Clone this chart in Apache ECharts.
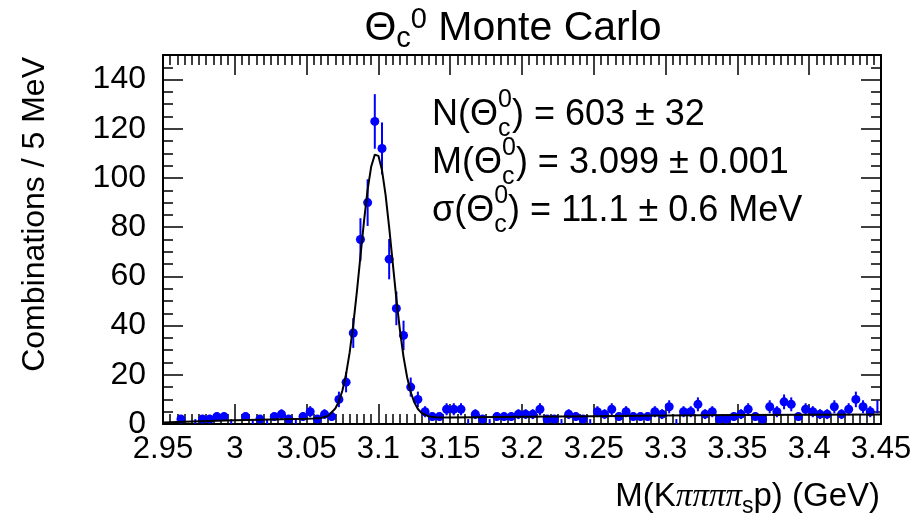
<!DOCTYPE html>
<html><head><meta charset="utf-8">
<script src="https://cdn.jsdelivr.net/npm/echarts/dist/echarts.min.js"></script>
<style>html,body{margin:0;padding:0;background:#fff}#c{width:922px;height:526px}</style>
</head><body><div id="c"></div>
<script>
// ---- data ----
const xMin = 2.95, xMax = 3.45, binWidth = 0.005;
const yMax = 150;
const xTickLabels = ['2.95','3','3.05','3.1','3.15','3.2','3.25','3.3','3.35','3.4','3.45'];
const yTickLabels = ['0','20','40','60','80','100','120','140'];
// combinations per 5 MeV bin (100 bins from 2.95 to 3.45 GeV)
const counts = [
  0,0,2,0,1,2,2,3,3,1,
  0,3,1,2,1,3,4,2,1,3,
  5,2,4,3,10,17,37,75,90,123,
  112,67,47,36,15,10,5,3,3,6,
  6,6,1,4,2,1,3,3,3,4,
  4,4,6,2,2,1,4,3,2,1,
  5,4,6,3,5,3,3,3,5,4,
  7,1,5,5,8,4,5,2,2,3,
  4,6,3,2,7,5,9,8,3,6,
  5,4,4,7,4,6,10,7,5,7
];
// fitted curve: [mass, combinations / 5 MeV]
const fitCurve = [
  [2.95,0.6],[2.975,1.1],[3.0,1.5],[3.025,1.8],[3.05,2.1],[3.055,2.25],[3.06,2.46],
  [3.065,3.3],[3.07,6.3],[3.0725,9.2],[3.075,13.7],[3.0775,20.3],[3.08,29.1],
  [3.0825,40.4],[3.085,53.7],[3.0875,68.2],[3.09,82.6],[3.0925,95.3],[3.095,104.7],
  [3.0975,109.5],[3.0985,109.9],[3.1,109.0],[3.1025,103.2],[3.105,93.1],[3.1075,79.9],
  [3.11,65.4],[3.1125,51.0],[3.115,38.1],[3.1175,27.3],[3.12,19.0],[3.1225,13.0],
  [3.125,8.8],[3.1275,6.1],[3.13,4.5],[3.135,3.1],[3.14,2.7],[3.15,2.6],[3.2,2.9],
  [3.25,3.2],[3.3,3.5],[3.35,3.7],[3.4,3.8],[3.45,3.9]
];

// ---- helpers ----
const SANS = '"Liberation Sans", Arial, Helvetica, sans-serif';
const SERIF = '"Liberation Serif", "Times New Roman", serif';
const mctx = document.createElement('canvas').getContext('2d');
function measure(t, size, fam, italic) {
  mctx.font = (italic ? 'italic ' : '') + size + 'px ' + fam;
  return mctx.measureText(t).width;
}
function richText(x, y, segs, anchor) {
  let w = 0; const items = [];
  segs.forEach(seg => {
    if (seg.stack) {
      let mw = 0;
      seg.stack.forEach(p => { mw = Math.max(mw, measure(p.t, p.s, p.fam || SANS, p.italic)); items.push(Object.assign({}, p, {ox: w})); });
      w += mw;
    } else {
      items.push(Object.assign({}, seg, {ox: w}));
      w += measure(seg.t, seg.s, seg.fam || SANS, seg.italic);
    }
  });
  const x0 = anchor === 'center' ? x - w / 2 : anchor === 'right' ? x - w : x;
  return items.map(it => ({
    type: 'text', x: x0 + it.ox, y: y + (it.dy || 0), z: 100,
    style: { text: it.t, fontSize: it.s, fontFamily: it.fam || SANS, fontStyle: it.italic ? 'italic' : 'normal',
             fill: '#000', align: 'left', verticalAlign: 'middle' }
  }));
}

const graphics = [].concat(
  richText(513, 29, [{t:'\u0398', s:41}, {t:'c', s:29, dy:10}, {t:'0', s:29, dy:-9}, {t:' Monte Carlo', s:41}], 'center'),
  richText(432, 115, [{t:'N(', s:36}, {t:'\u0398', s:36}, {stack:[{t:'0', s:25, dy:-15}, {t:'c', s:25, dy:14}]}, {t:') = 603 \u00b1 32', s:36}], 'left'),
  richText(432, 163, [{t:'M(', s:36}, {t:'\u0398', s:36}, {stack:[{t:'0', s:25, dy:-15}, {t:'c', s:25, dy:14}]}, {t:') = 3.099 \u00b1 0.001', s:36}], 'left'),
  richText(432, 211, [{t:'\u03c3(', s:36}, {t:'\u0398', s:36}, {stack:[{t:'0', s:25, dy:-15}, {t:'c', s:25, dy:14}]}, {t:') = 11.1 \u00b1 0.6 MeV', s:36}], 'left'),
  richText(880, 497, [{t:'M(K', s:33}, {t:'\u03c0\u03c0\u03c0\u03c0', s:33, fam:SERIF, italic:true}, {t:'s', s:23, dy:10}, {t:'p) (GeV)', s:33}], 'right'),
  [{ type:'text', x:35, y:57, rotation:Math.PI/2, z:100,
     style:{ text:'Combinations / 5 MeV', fontSize:32, fontFamily:SANS, fill:'#000', align:'right', verticalAlign:'middle' } }]
);

const black = '#000';
const lineAx = { show:true, onZero:false, lineStyle:{ color:black, width:2 } };
function xAx(pos, labels) {
  return {
    type:'value', min:xMin, max:xMax, interval:0.05, position:pos,
    axisLine: lineAx,
    axisTick:{ show:true, inside:true, length:20, lineStyle:{ color:black, width:1.5 } },
    minorTick:{ show:true, splitNumber:10, length:10, lineStyle:{ color:black, width:1.5 } },
    splitLine:{ show:false }, minorSplitLine:{ show:false },
    axisLabel: labels ? { show:true, margin:10, fontSize:31, fontFamily:SANS, color:black,
      formatter: v => { const i = Math.round((v - xMin) / 0.05); return xTickLabels[i] !== undefined ? xTickLabels[i] : ''; } }
      : { show:false }
  };
}
function yAx(pos, major, labels) {
  return {
    type:'value', min:0, max:yMax, interval: major ? 20 : 5, position:pos,
    axisLine: major ? lineAx : { show:false },
    axisTick:{ show:true, inside:true, length: major ? 20 : 10, lineStyle:{ color:black, width:1.5 } },
    splitLine:{ show:false },
    axisLabel: labels ? { show:true, margin:17, fontSize:32, fontFamily:SANS, color:black, showMaxLabel:false,
      formatter: v => { const i = Math.round(v / 20); return (Math.abs(v - i * 20) < 1e-6 && yTickLabels[i] !== undefined) ? yTickLabels[i] : ''; } }
      : { show:false }
  };
}

const chart = echarts.init(document.getElementById('c'), null, { renderer:'canvas' });
chart.setOption({
  animation:false,
  backgroundColor:'#fff',
  grid:{ left:163, top:55, right:41, bottom:102, containLabel:false },
  xAxis:[ xAx('bottom', true), xAx('top', false) ],
  yAxis:[ yAx('left', true, true), yAx('left', false, false), yAx('right', true, false), yAx('right', false, false) ],
  graphic: graphics,
  series:[
    {
      type:'custom', xAxisIndex:0, yAxisIndex:0, z:3,
      data: counts.map((c, i) => [xMin + binWidth * (i + 0.5), c]),
      renderItem: function (params, api) {
        const x = api.value(0), v = api.value(1);
        if (!(v > 0)) return null;
        const e = Math.sqrt(v);
        const c = api.coord([x, v]);
        const top = api.coord([x, v + e]);
        const bot = api.coord([x, Math.max(v - e, 0)]);
        const cs = params.coordSys;
        const r = 4.5;
        const children = [{ type:'line', shape:{ x1:c[0], y1:top[1], x2:c[0], y2:bot[1] }, style:{ stroke:'#0000ff', lineWidth:2 } }];
        if (c[1] + r <= cs.y + cs.height && c[0] + r <= cs.x + cs.width && c[0] - r >= cs.x && c[1] - r >= cs.y) {
          children.push({ type:'circle', shape:{ cx:c[0], cy:c[1], r:r }, style:{ fill:'#0000ff' } });
        }
        return { type:'group', children };
      }
    },
    {
      type:'line', xAxisIndex:0, yAxisIndex:0, z:4,
      data: fitCurve, showSymbol:false, smooth:false,
      lineStyle:{ color:black, width:2 }
    }
  ]
});
</script></body></html>
